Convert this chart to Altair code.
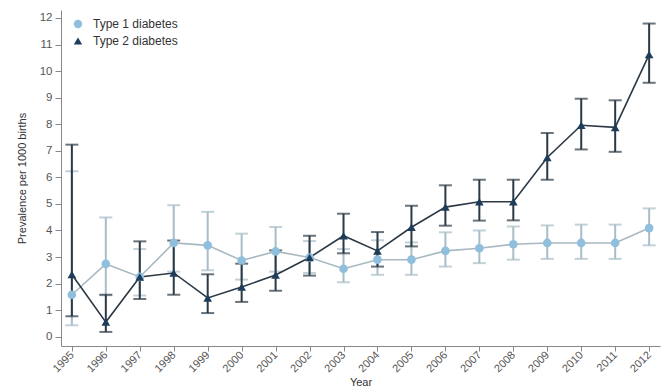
import altair as alt
import pandas as pd

# Prevalence per 1000 births, with 95% confidence limits
years = list(range(1995, 2013))

t1_mid = [1.58, 2.74, 2.25, 3.53, 3.44, 2.87, 3.21, 2.98, 2.56, 2.90, 2.90, 3.23, 3.33, 3.48, 3.53, 3.53, 3.53, 4.09]
t1_lo = [0.43, 1.56, 1.55, 2.45, 2.50, 2.15, 2.45, 2.40, 2.05, 2.33, 2.33, 2.64, 2.77, 2.90, 2.93, 2.93, 2.93, 3.44]
t1_hi = [6.23, 4.49, 3.30, 4.95, 4.70, 3.88, 4.13, 3.60, 3.30, 3.63, 3.55, 3.93, 4.00, 4.15, 4.19, 4.22, 4.22, 4.83]

t2_mid = [2.34, 0.55, 2.25, 2.40, 1.46, 1.87, 2.32, 2.98, 3.80, 3.23, 4.12, 4.88, 5.08, 5.08, 6.75, 7.96, 7.88, 10.62]
t2_lo = [0.77, 0.18, 1.42, 1.58, 0.89, 1.31, 1.73, 2.30, 3.14, 2.64, 3.40, 4.18, 4.37, 4.38, 5.91, 7.05, 6.96, 9.56]
t2_hi = [7.23, 1.58, 3.59, 3.62, 2.35, 2.75, 3.25, 3.80, 4.63, 3.94, 4.93, 5.70, 5.91, 5.91, 7.67, 8.96, 8.90, 11.79]

series_names = ["Type 1 diabetes", "Type 2 diabetes"]
point_colors = ["#8fbfdc", "#1d3d5a"]
line_colors = ["#a9b8c0", "#2b3945"]
bar_colors = ["#a8bdc8", "#2b3945"]
shapes = ["circle", "triangle-up"]

rows = []
for name, mids, los, his in [
    (series_names[0], t1_mid, t1_lo, t1_hi),
    (series_names[1], t2_mid, t2_lo, t2_hi),
]:
    for yr, m, lo, hi in zip(years, mids, los, his):
        rows.append({"year": yr, "series": name, "value": m, "lo": lo, "hi": hi})
df = pd.DataFrame(rows)

FONT = "Liberation Sans"

x_scale = alt.Scale(domain=[1994.68, 2012.32], nice=False, zero=False)
x_axis = alt.Axis(
    values=years, format="d", title="Year", labelAngle=-45, labelAlign="right",
    labelBaseline="middle", labelPadding=2, labelFontSize=11, labelColor="#555555",
    labelFont=FONT, titleFont=FONT, titleFontSize=11, titleFontWeight="normal",
    titleColor="#333333", titlePadding=3, tickSize=5, tickColor="#888888",
    domainColor="#888888", grid=False, labelOverlap=False,
)

# major ticks on whole numbers, short unlabelled minor ticks in between
y_scale = alt.Scale(domain=[-0.35, 12.3], nice=False, zero=False)
y_axis = alt.Axis(
    values=[v / 2 for v in range(0, 25)],
    format="d",
    labelExpr="datum.value % 1 === 0 ? datum.label : ''",
    title="Prevalence per 1000 births", labelFontSize=11.5, labelColor="#555555",
    labelFont=FONT, titleFont=FONT, titleFontSize=11, titleFontWeight="normal",
    titleColor="#333333", titlePadding=12, labelPadding=3,
    tickSize={"condition": {"test": "datum.value % 1 !== 0", "value": 3}, "value": 6},
    tickColor="#888888", domainColor="#888888", grid=False, labelOverlap=False,
)


def xq():
    return alt.X("year:Q", scale=x_scale, axis=x_axis)


def yq(field):
    return alt.Y(f"{field}:Q", scale=y_scale, axis=y_axis)


base = alt.Chart(df)
layers = []
for i, name in enumerate(series_names):
    sub = base.transform_filter(alt.datum.series == name)
    layers.append(
        sub.mark_rule(color=bar_colors[i], strokeWidth=2).encode(
            x=xq(), y=yq("lo"), y2="hi:Q"
        )
    )
    for end in ["lo", "hi"]:
        layers.append(
            sub.mark_tick(color=bar_colors[i], orient="horizontal", size=13, thickness=2).encode(
                x=xq(), y=yq(end)
            )
        )
for i, name in enumerate(series_names):
    sub = base.transform_filter(alt.datum.series == name)
    layers.append(
        sub.mark_line(color=line_colors[i], strokeWidth=1.6).encode(x=xq(), y=yq("value"))
    )

points = base.mark_point(filled=True, opacity=1, size=75).encode(
    x=xq(),
    y=yq("value"),
    color=alt.Color(
        "series:N",
        scale=alt.Scale(domain=series_names, range=point_colors),
        legend=alt.Legend(
            title=None, orient="none", legendX=11, legendY=8, labelFont=FONT,
            labelFontSize=12, labelColor="#333333", symbolSize=70, rowPadding=5,
            labelOffset=9,
        ),
    ),
    shape=alt.Shape("series:N", scale=alt.Scale(domain=series_names, range=shapes)),
)
layers.append(points)

chart = (
    alt.layer(*layers)
    .properties(
        width=599,
        height=336,
        padding={"left": 61, "top": 10, "right": 2, "bottom": 44},
        autosize=alt.AutoSizeParams(type="none"),
        background="white",
    )
    .configure_view(stroke=None)
    .configure_axis(labelOverlap=False)
)

chart.save("out.html", embed_options={"renderer": "svg", "actions": False})
